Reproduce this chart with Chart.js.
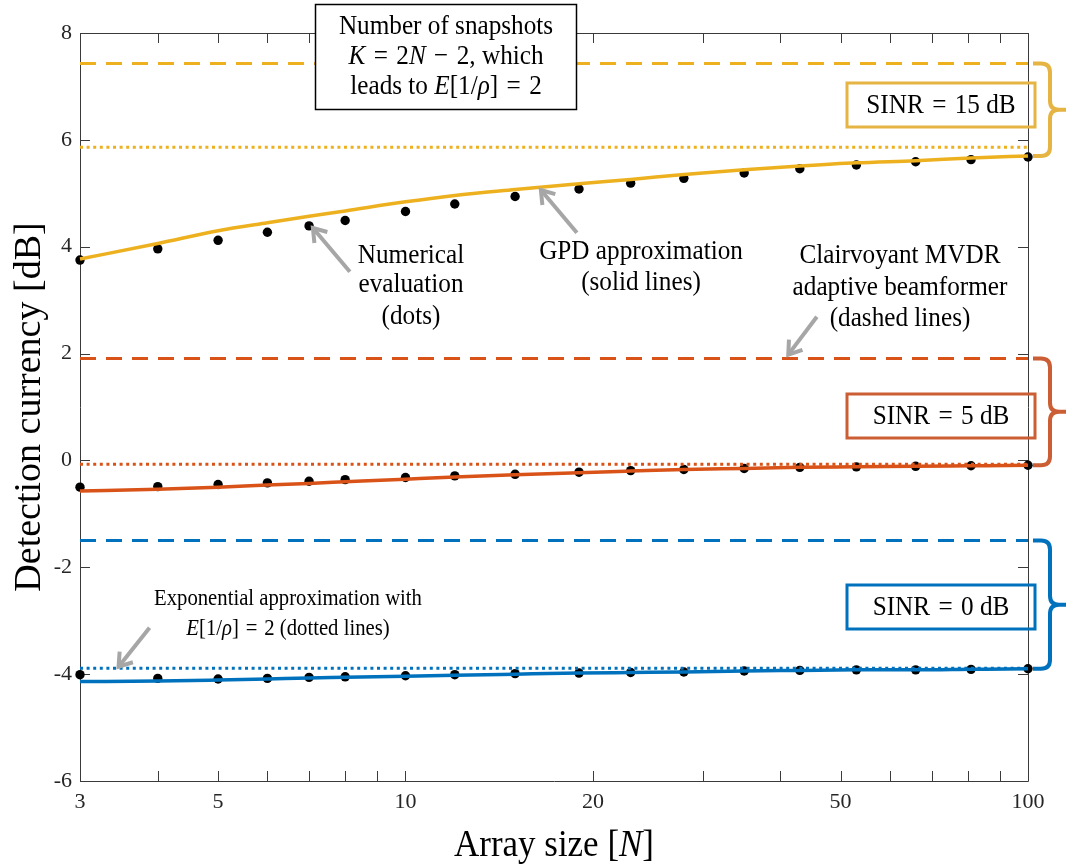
<!DOCTYPE html>
<html>
<head>
<meta charset="utf-8">
<title>Detection currency vs array size</title>
<script src="https://cdn.jsdelivr.net/npm/chart.js@4.4.1/dist/chart.umd.min.js"></script>
<style>
    html, body { margin: 0; padding: 0; background: #ffffff; }
    #wrap { width: 1066px; height: 865px; }
</style>
</head>
<body>
<div id="wrap"><canvas id="chart" width="1066" height="865"></canvas></div>
<script>
// Data
const arraySize = [3, 4, 5, 6, 7, 8, 10, 12, 15, 19, 23, 28, 35, 43, 53, 66, 81, 100];

// SINR = 15 dB
const gpd15 = [3.77, 4.06, 4.30, 4.45, 4.57, 4.67, 4.84, 4.96, 5.07, 5.18, 5.26, 5.35, 5.44, 5.51, 5.57, 5.61, 5.66, 5.70];
const num15 = [3.75, 3.96, 4.12, 4.27, 4.39, 4.49, 4.66, 4.80, 4.94, 5.08, 5.19, 5.28, 5.38, 5.46, 5.53, 5.59, 5.63, 5.68];
// SINR = 5 dB
const gpd5 = [-0.57, -0.54, -0.50, -0.46, -0.43, -0.40, -0.35, -0.31, -0.27, -0.23, -0.20, -0.17, -0.15, -0.13, -0.12, -0.11, -0.10, -0.09];
const num5 = [-0.50, -0.49, -0.45, -0.42, -0.39, -0.36, -0.32, -0.29, -0.26, -0.22, -0.19, -0.17, -0.15, -0.13, -0.12, -0.11, -0.10, -0.09];
// SINR = 0 dB
const gpd0 = [-4.14, -4.13, -4.11, -4.09, -4.07, -4.06, -4.04, -4.02, -4.00, -3.98, -3.97, -3.96, -3.94, -3.93, -3.92, -3.92, -3.91, -3.90];
const num0 = [-4.01, -4.08, -4.09, -4.08, -4.06, -4.05, -4.03, -4.01, -3.99, -3.98, -3.97, -3.96, -3.94, -3.93, -3.92, -3.92, -3.91, -3.90];

// clairvoyant MVDR (dashed) and exponential approximation (dotted), order 15 / 5 / 0 dB
const mvdrLevels = [7.43, 1.91, -1.50];
const expoLevels = [5.86, -0.07, -3.89];
const sinrLabels = ['SINR\u2004=\u200415 dB', 'SINR\u2004=\u20045 dB', 'SINR\u2004=\u20040 dB'];

// Axis ticks
const xTickValues = [3, 5, 10, 20, 50, 100];
const xMinorTicks = [4, 6, 7, 8, 9, 30, 40, 60, 70, 80, 90];
const yTickValues = [-6, -4, -2, 0, 2, 4, 6, 8];

// Styles
const lineColors = ['#EDB120', '#D95319', '#0072BD'];
const boxColors = ['#E5B443', '#CB5E34', '#0072BD'];
const SERIF = "'Liberation Serif', 'Times New Roman', serif";
const SQUEEZE = 0.9;

const toPoints = (ys) => arraySize.map((n, i) => ({ x: n, y: ys[i] }));
const flatLine = (v) => [{ x: arraySize[0], y: v }, { x: arraySize[arraySize.length - 1], y: v }];

const solidSets = [gpd15, gpd5, gpd0];
const dotSets = [num15, num5, num0];

const datasets = [];
lineColors.forEach((color, k) => {
    datasets.push({
        label: 'MVDR ' + sinrLabels[k],
        data: flatLine(mvdrLevels[k]),
        borderColor: color, borderWidth: 3, borderDash: [16, 10],
        pointRadius: 0, showLine: true, clip: false
    });
    datasets.push({
        label: 'Exponential ' + sinrLabels[k],
        data: flatLine(expoLevels[k]),
        borderColor: color, borderWidth: 3, borderDash: [3, 3.6],
        pointRadius: 0, showLine: true, clip: false
    });
    datasets.push({
        label: 'GPD ' + sinrLabels[k],
        data: toPoints(solidSets[k]),
        borderColor: color, borderWidth: 3.5,
        pointRadius: 0, showLine: true, cubicInterpolationMode: 'monotone', clip: false
    });
});
dotSets.forEach((ys, k) => {
    datasets.push({
        label: 'Numerical ' + sinrLabels[k],
        data: toPoints(ys),
        showLine: false, pointRadius: 4.7, pointBorderWidth: 0,
        pointBackgroundColor: '#000000', clip: false
    });
});

// Annotation layout (pixels)
const textBlocks = [
    { lines: ['Number of snapshots', '*K*\u2004=\u20042*N*\u2004−\u20042, which', 'leads to *E*[1/*ρ*]\u2004=\u20042'], x: 446, ys: [27, 57, 87], size: 28 },
    { lines: ['Numerical', 'evaluation', '(dots)'], x: 411, ys: [256, 285, 317], size: 28 },
    { lines: ['GPD approximation', '(solid lines)'], x: 641, ys: [252, 283], size: 28 },
    { lines: ['Clairvoyant MVDR', 'adaptive beamformer', '(dashed lines)'], x: 900, ys: [256, 288, 319], size: 28 },
    { lines: ['Exponential approximation with', '*E*[1/*ρ*]\u2004=\u20042 (dotted lines)'], x: 288, ys: [599, 629], size: 23 }
];
const sinrBoxes = [
    { top: 83, bottom: 127 },
    { top: 394, bottom: 438 },
    { top: 585, bottom: 629 }
];
// arrows in data units: [N, dB] tail -> head
const arrows = [
    [[8.14, 3.53], [7.1, 4.35]],
    [[18.85, 4.26], [16.5, 5.06]],
    [[45.8, 2.69], [41.2, 1.98]],
    [[3.88, -3.13], [3.46, -3.86]]
];

// Helpers
const drawText = (ctx, str, cx, cy, size, sx = SQUEEZE) => {
    const parts = str.split('*').map((t, k) => ({ t, i: k % 2 === 1 })).filter(p => p.t);
    ctx.save();
    ctx.translate(cx, cy);
    ctx.scale(sx, 1);
    ctx.fillStyle = '#000000';
    ctx.textBaseline = 'middle';
    ctx.textAlign = 'left';
    let total = 0;
    parts.forEach(p => {
        ctx.font = `${p.i ? 'italic ' : ''}${size}px ${SERIF}`;
        p.w = ctx.measureText(p.t).width;
        total += p.w;
    });
    let x = -total / 2;
    parts.forEach(p => {
        ctx.font = `${p.i ? 'italic ' : ''}${size}px ${SERIF}`;
        ctx.fillText(p.t, x, 0);
        x += p.w;
    });
    ctx.restore();
};

const drawArrow = (ctx, x1, y1, x2, y2) => {
    const ang = Math.atan2(y2 - y1, x2 - x1);
    const len = 15, spread = 0.6;
    ctx.save();
    ctx.strokeStyle = '#A6A6A6';
    ctx.lineWidth = 4;
    ctx.lineCap = 'butt';
    ctx.lineJoin = 'miter';
    ctx.beginPath();
    ctx.moveTo(x1, y1);
    ctx.lineTo(x2, y2);
    ctx.stroke();
    ctx.beginPath();
    ctx.moveTo(x2 - len * Math.cos(ang - spread), y2 - len * Math.sin(ang - spread));
    ctx.lineTo(x2, y2);
    ctx.lineTo(x2 - len * Math.cos(ang + spread), y2 - len * Math.sin(ang + spread));
    ctx.stroke();
    ctx.restore();
};

const drawBrace = (ctx, x0, yTop, yBot, color) => {
    const x1 = x0 + 17, r = 9, yMid = (yTop + yBot) / 2;
    ctx.save();
    ctx.strokeStyle = color;
    ctx.lineWidth = 4;
    ctx.beginPath();
    ctx.moveTo(x0, yTop);
    ctx.lineTo(x1 - r, yTop);
    ctx.quadraticCurveTo(x1, yTop, x1, yTop + r);
    ctx.lineTo(x1, yMid - r);
    ctx.quadraticCurveTo(x1, yMid, x1 + r, yMid);
    ctx.lineTo(x1 + 40, yMid);
    ctx.moveTo(x1 + r, yMid);
    ctx.quadraticCurveTo(x1, yMid, x1, yMid + r);
    ctx.lineTo(x1, yBot - r);
    ctx.quadraticCurveTo(x1, yBot, x1 - r, yBot);
    ctx.lineTo(x0, yBot);
    ctx.stroke();
    ctx.restore();
};

// Box axes with inward ticks (MATLAB style)
const axesBoxPlugin = {
    id: 'axesBox',
    beforeDatasetsDraw(chart) {
        const { ctx, chartArea: a, scales: { x, y } } = chart;
        const t = 10;
        ctx.save();
        ctx.strokeStyle = '#3a3a3a';
        ctx.lineWidth = 1;
        ctx.beginPath();
        ctx.rect(Math.round(a.left) + 0.5, Math.round(a.top) + 0.5,
            Math.round(a.right - a.left), Math.round(a.bottom - a.top));
        [...xTickValues, ...xMinorTicks].forEach(v => {
            const px = Math.round(x.getPixelForValue(v)) + 0.5;
            ctx.moveTo(px, a.bottom); ctx.lineTo(px, a.bottom - t);
            ctx.moveTo(px, a.top); ctx.lineTo(px, a.top + t);
        });
        yTickValues.forEach(v => {
            const py = Math.round(y.getPixelForValue(v)) + 0.5;
            ctx.moveTo(a.left, py); ctx.lineTo(a.left + t, py);
            ctx.moveTo(a.right, py); ctx.lineTo(a.right - t, py);
        });
        ctx.stroke();
        ctx.restore();
    }
};

// Text boxes, arrows, braces and axis titles
const annotationPlugin = {
    id: 'annotations',
    afterDraw(chart) {
        const { ctx, chartArea: a, scales: { x, y } } = chart;
        ctx.save();

        // top explanation box (white, covers the axis line)
        ctx.fillStyle = '#ffffff';
        ctx.strokeStyle = '#000000';
        ctx.lineWidth = 1.5;
        ctx.fillRect(315, 4, 262, 106);
        ctx.strokeRect(315.5, 4.5, 261, 105);

        textBlocks.forEach(b => b.lines.forEach((ln, i) => drawText(ctx, ln, b.x, b.ys[i], b.size)));

        arrows.forEach(([tail, head]) => drawArrow(ctx,
            x.getPixelForValue(tail[0]), y.getPixelForValue(tail[1]),
            x.getPixelForValue(head[0]), y.getPixelForValue(head[1])));

        // SINR boxes and braces
        sinrBoxes.forEach((b, k) => {
            ctx.strokeStyle = boxColors[k];
            ctx.lineWidth = 3;
            ctx.strokeRect(847, b.top, 188, b.bottom - b.top);
            drawText(ctx, sinrLabels[k], 941, (b.top + b.bottom) / 2 + 1, 28);
            const ends = solidSets[k];
            drawBrace(ctx, a.right + 5,
                y.getPixelForValue(mvdrLevels[k]),
                y.getPixelForValue(ends[ends.length - 1]),
                boxColors[k]);
        });

        // axis titles
        drawText(ctx, 'Array size [*N*]', (a.left + a.right) / 2, 846, 38, 0.92);
        ctx.save();
        ctx.translate(30, (a.top + a.bottom) / 2);
        ctx.rotate(-Math.PI / 2);
        drawText(ctx, 'Detection currency [dB]', 0, 0, 38, 1);
        ctx.restore();

        ctx.restore();
    }
};

const ctx = document.getElementById('chart').getContext('2d');
new Chart(ctx, {
    type: 'scatter',
    data: { datasets },
    options: {
        responsive: false,
        animation: false,
        devicePixelRatio: 1,
        layout: { padding: { top: 33, right: 38, bottom: 0, left: 0 } },
        plugins: {
            legend: { display: false },
            tooltip: { enabled: false }
        },
        scales: {
            x: {
                type: 'logarithmic',
                min: 3,
                max: 100,
                grid: { display: false, drawTicks: false },
                border: { display: false },
                afterBuildTicks: (scale) => {
                    scale.ticks = xTickValues.map(v => ({ value: v }));
                },
                afterFit: (scale) => { scale.height = 84; },
                ticks: {
                    autoSkip: false,
                    maxRotation: 0,
                    padding: 8,
                    color: '#262626',
                    font: { family: SERIF, size: 22 },
                    callback: (value) => String(value)
                }
            },
            y: {
                min: -6,
                max: 8,
                grid: { display: false, drawTicks: false },
                border: { display: false },
                afterBuildTicks: (scale) => {
                    scale.ticks = yTickValues.map(v => ({ value: v }));
                },
                afterFit: (scale) => { scale.width = 80; },
                ticks: {
                    padding: 8,
                    color: '#262626',
                    font: { family: SERIF, size: 22 },
                    callback: (value) => String(value)
                }
            }
        }
    },
    plugins: [axesBoxPlugin, annotationPlugin]
});
</script>
</body>
</html>
